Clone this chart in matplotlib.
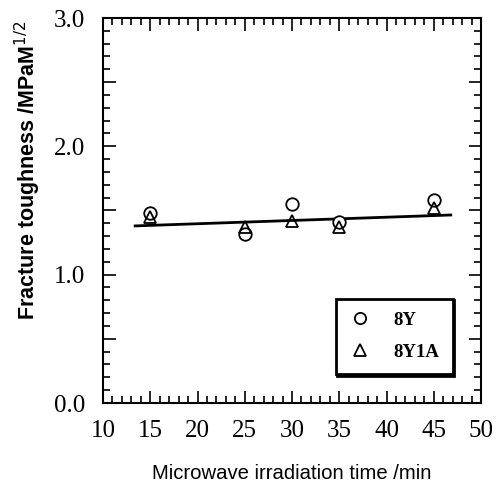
import matplotlib
matplotlib.use("Agg")
import matplotlib.pyplot as plt
from matplotlib.ticker import MultipleLocator

time_min = [15, 25, 30, 35, 45]
tough_8Y = [1.48, 1.32, 1.55, 1.41, 1.58]
tough_8Y1A = [1.45, 1.37, 1.42, 1.37, 1.52]
fit_x = [13.4, 46.8]
fit_y = [1.38, 1.465]

fig = plt.figure(figsize=(4.96, 4.86), dpi=100)
ax = fig.add_axes([103/496, 1-403/486, 378/496, 385/486])

ax.plot(fit_x, fit_y, color='black', lw=2.0)
ax.plot(time_min, tough_8Y, ls='none', marker='o', ms=9, mfc='white', mec='black', mew=1.3, label='8Y')
ax.plot(time_min, tough_8Y1A, ls='none', marker='^', ms=9, mfc='none', mec='black', mew=1.3, label='8Y1A')

ax.set_xlim(10, 50)
ax.set_ylim(0, 3.0)
ax.xaxis.set_major_locator(MultipleLocator(5))
ax.xaxis.set_minor_locator(MultipleLocator(1))
ax.yaxis.set_major_locator(MultipleLocator(0.5))
ax.yaxis.set_minor_locator(MultipleLocator(0.1))
ax.yaxis.set_major_formatter(plt.FuncFormatter(lambda v, p: f"{v:.1f}" if abs(v - round(v)) < 1e-6 else ""))
ax.tick_params(which='both', direction='in', top=True, right=True, width=1.2, color='black')
ax.tick_params(which='major', length=9)
ax.tick_params(which='minor', length=5)
ax.tick_params(axis='both', labelsize=18)
ax.tick_params(axis='y', pad=13)
ax.tick_params(axis='x', pad=12)
for lab in ax.get_xticklabels() + ax.get_yticklabels():
    lab.set_family('Liberation Sans' if False else 'Liberation Serif')
for s in ax.spines.values():
    s.set_linewidth(1.5)

ax.set_xlabel('Microwave irradiation time /min', fontsize=14.6, family='Liberation Sans', labelpad=16)
ax.set_ylabel('Fracture toughness /MPaM$^{1/2}$', fontsize=15.5, family='Liberation Sans',
              fontweight='bold')
ax.yaxis.set_label_coords(-0.158, 0.605)

leg = ax.legend(loc='lower right', bbox_to_anchor=(0.925, 0.075), frameon=True, fancybox=False,
                shadow={'ox': 1.2, 'oy': -1.2, 'color': 'black', 'alpha': 1.0},
                edgecolor='black', prop={'family': 'Liberation Serif', 'weight': 'bold', 'size': 13.5},
                handletextpad=1.2, borderpad=0.7, labelspacing=0.8, handlelength=1.2,
                markerscale=0.9, borderaxespad=0.0)
leg.get_frame().set_linewidth(2.0)

fig.savefig('out.png', dpi=100)
